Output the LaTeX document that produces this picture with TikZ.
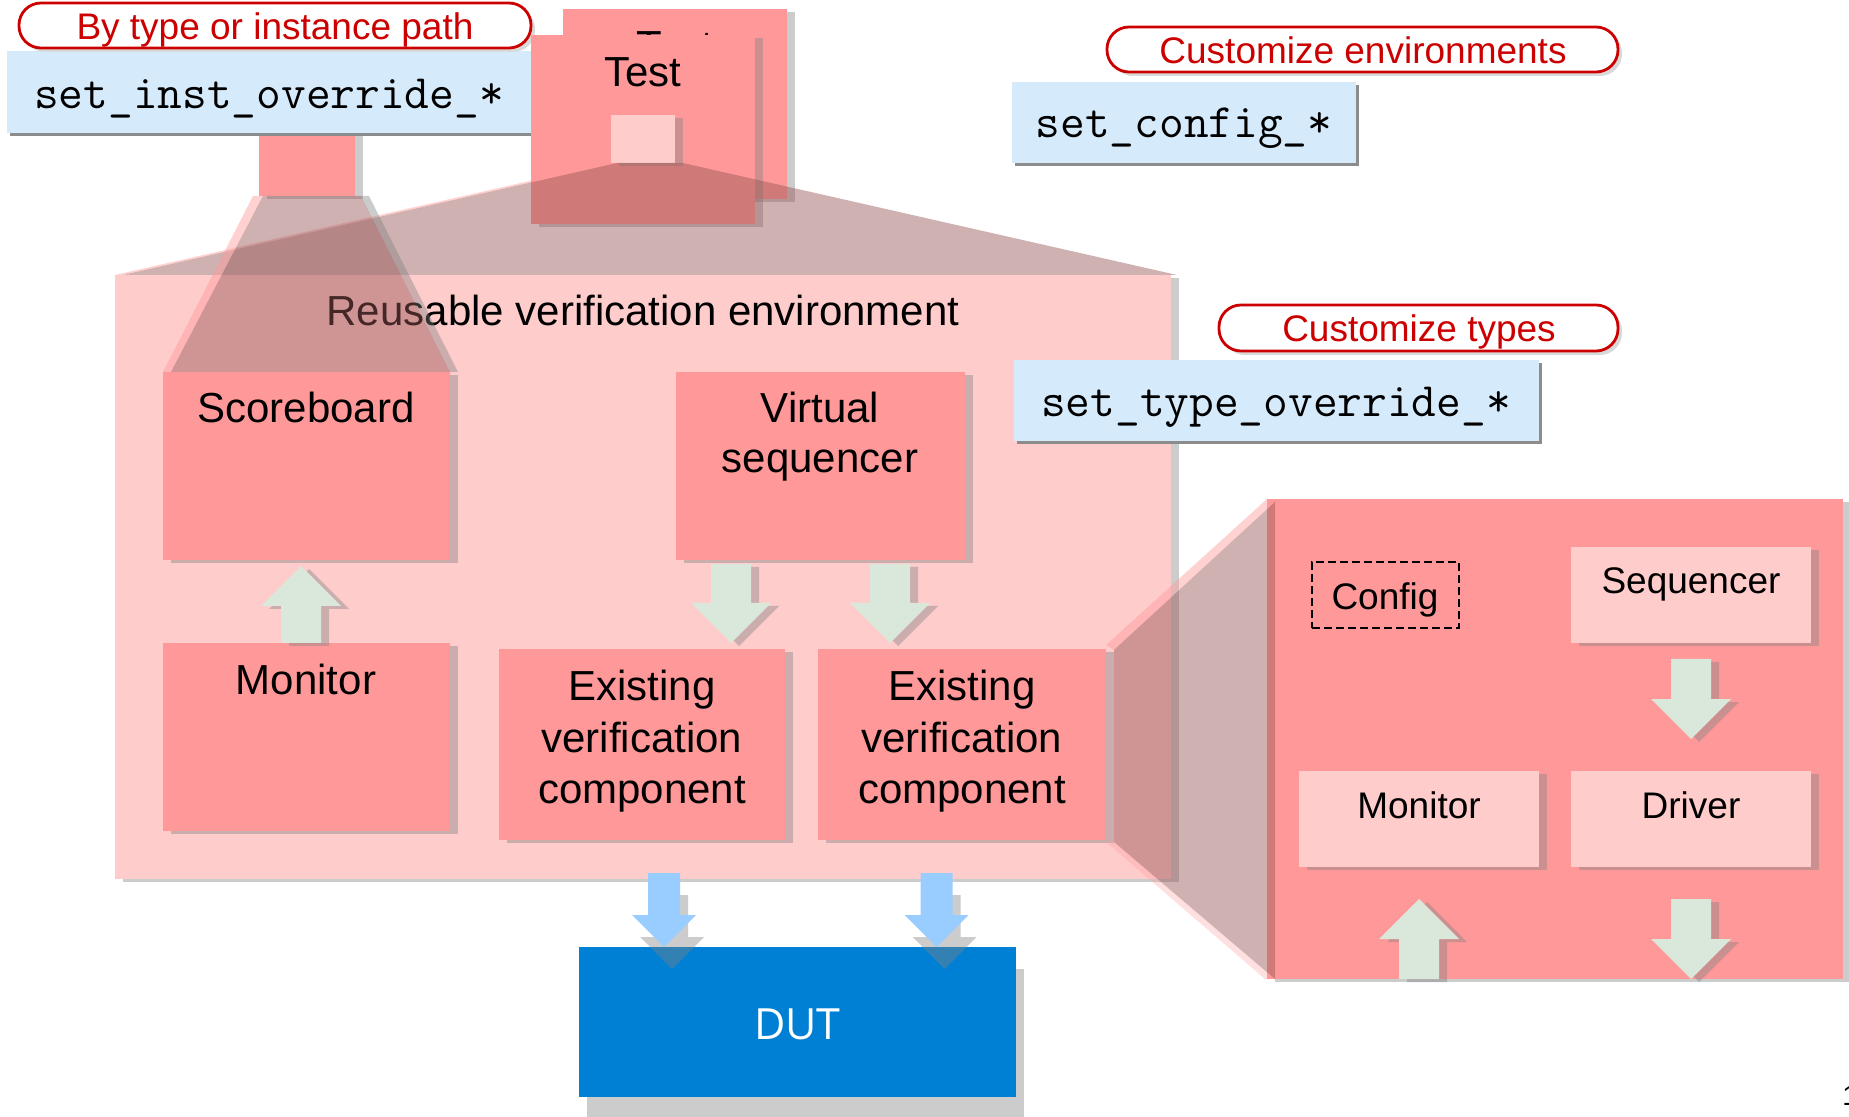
\documentclass[tikz,border=0pt]{standalone}
\usepackage{fontspec}
\setmainfont{Liberation Sans}
\newfontfamily\dutfont{Open Sans}
\usetikzlibrary{shadows,fit,calc}

\definecolor{boxred}{HTML}{FF9999}
\definecolor{boxpink}{HTML}{FFCCCC}
\definecolor{codeblue}{HTML}{D5EBFB}
\definecolor{dutblue}{HTML}{0080D5}
\definecolor{flowblue}{HTML}{99CCFF}
\definecolor{flowgreen}{HTML}{DAE8DC}
\definecolor{notered}{HTML}{CC0000}
\definecolor{zoomshade}{HTML}{975555}

\begin{document}
\begin{tikzpicture}[x=0.5pt,y=-0.5pt,
  shade8/.style={drop shadow={shadow xshift=4pt,shadow yshift=-1.5pt,fill=black!50,opacity=0.4}},
  boxbase/.style={inner sep=0pt,outer sep=0pt},
  redbox/.style={boxbase,fill=boxred,shade8},
  pinkbox/.style={boxbase,fill=boxpink,shade8},
  codebox/.style={boxbase,fill=codeblue,drop shadow={shadow xshift=1.5pt,shadow yshift=-1.5pt,fill=black!45,opacity=1}},
  pill/.style={boxbase,fill=white,draw=notered,line width=1.4pt,rounded corners=11pt,
    drop shadow={shadow xshift=2pt,shadow yshift=-2pt,fill=black!15,opacity=1}},
  bigtxt/.style={font=\fontsize{21}{25}\selectfont,inner sep=0pt,anchor=base},
  smalltxt/.style={font=\fontsize{18.5}{22}\selectfont,inner sep=0pt,anchor=base},
  notetxt/.style={font=\fontsize{18.5}{22}\selectfont,text=notered,inner sep=0pt,anchor=base},
  codetxt/.style={font=\ttfamily\fontsize{24}{28}\selectfont,inner sep=0pt,anchor=base},
  zoomfan/.style={fill=zoomshade,fill opacity=0.46},
  fanedge/.style={fill=boxred,fill opacity=0.45},
  fanshadow/.style={fill=black!50,fill opacity=0.4},
  blockarrow/.style n args={3}{to path={
    ($(\tikztostart)+(-#1,0pt)$) -- ($(\tikztotarget)+(-#1,#3)$) -- ($(\tikztotarget)+(-#2,#3)$)
    -- (\tikztotarget) -- ($(\tikztotarget)+(#2,#3)$) -- ($(\tikztotarget)+(#1,#3)$)
    -- ($(\tikztostart)+(#1,0pt)$) -- cycle}},
  greenarrow/.style={fill=flowgreen,shade8},
  bluearrow/.style={fill=flowblue,drop shadow={shadow xshift=4pt,shadow yshift=-11pt,fill=black!50,opacity=0.4}},
]
% page
\fill[white] (0,0) rectangle (1849,1117);
\useasboundingbox (0,0) rectangle (1849,1117);

% stem below the instance override call
\node[redbox,fit={(259,133)(355,196)}] (stem) {};
\node[codebox,fit={(7,51)(531,133)}] (instbox) {};
\node[codetxt] (insttxt) at (269,109) {set\_inst\_override\_*};
\node[pill,fit={(19,3)(531,48)}] (instnote) {};
\node[notetxt] (instnotetxt) at (275,40) {By type or instance path};

% stacked tests
\node[redbox,fit={(563,9)(787,199)}] (testback) {};
\node[bigtxt] (testbacktxt) at (675,61) {Test};
\node[redbox,fit={(531,35)(755,224)}] (test) {};
\node[bigtxt] (testtxt) at (643,87) {Test};
\node[pinkbox,fit={(611,115)(675,163)}] (envicon) {};

% reusable environment
\node[pinkbox,fit={(115,275)(1171,879)}] (env) {};
\node[bigtxt] (envtxt) at (643,326) {Reusable verification environment};

% fan from the test down to the environment
\fill[fanedge] (609,163) -- (617,163) -- (123,275) -- (115,275) -- cycle;
\fill[zoomfan] (617,163) -- (683,163) -- (1177,275) -- (123,275) -- cycle;

% fan from the stem down to the scoreboard
\fill[fanedge] (253,196) -- (263,196) -- (171,372) -- (163,372) -- cycle;
\fill[zoomfan] (263,196) -- (361,196) -- (450,372) -- (171,372) -- cycle;
\fill[fanshadow] (361,196) -- (369,196) -- (458,372) -- (450,372) -- cycle;

% environment components
\node[redbox,fit={(163,372)(450,560)}] (sb) {};
\node[bigtxt] (sbtxt) at (306,423) {Scoreboard};
\node[redbox,fit={(163,643)(450,831)}] (mon) {};
\node[bigtxt] (montxt) at (306,695) {Monitor};
\node[redbox,fit={(676,372)(965,560)}] (vs) {};
\node[bigtxt] (vstxta) at (820,423) {Virtual};
\node[bigtxt] (vstxtb) at (820,473) {sequencer};
\node[redbox,fit={(499,649)(785,840)}] (ev1) {};
\node[bigtxt] (ev1a) at (642,701) {Existing};
\node[bigtxt] (ev1b) at (642,752) {verification};
\node[bigtxt] (ev1c) at (642,803) {component};
\node[redbox,fit={(818,649)(1106,840)}] (ev2) {};
\node[bigtxt] (ev2a) at (962,701) {Existing};
\node[bigtxt] (ev2b) at (962,752) {verification};
\node[bigtxt] (ev2c) at (962,803) {component};

\path[greenarrow] ([xshift=-2.75pt]mon.north) to[blockarrow={10pt}{20pt}{-20pt}] ([xshift=-2.75pt,yshift=-3pt]sb.south);
\path[greenarrow] ([xshift=-44.75pt,yshift=-2pt]vs.south) to[blockarrow={10pt}{20pt}{20pt}] ([xshift=44.5pt,yshift=3pt]ev1.north);
\path[greenarrow] ([xshift=34.75pt,yshift=-2pt]vs.south) to[blockarrow={10pt}{20pt}{20pt}] ([xshift=-36pt,yshift=3pt]ev2.north);

% expanded verification component
\node[redbox,fit={(1267,499)(1843,979)}] (agent) {};
\node[boxbase,draw=black,dash pattern=on 4pt off 2pt,line width=0.8pt,fit={(1312,562)(1459,628)}] (cfg) {};
\node[smalltxt] (cfgtxt) at (1385,610) {Config};
\node[pinkbox,fit={(1571,547)(1811,643)}] (seq) {};
\node[smalltxt] (seqtxt) at (1691,594) {Sequencer};
\node[pinkbox,fit={(1299,771)(1539,867)}] (imon) {};
\node[smalltxt] (imontxt) at (1419,818) {Monitor};
\node[pinkbox,fit={(1571,771)(1811,867)}] (drv) {};
\node[smalltxt] (drvtxt) at (1691,818) {Driver};

\path[greenarrow] ([yshift=-8pt]seq.south) to[blockarrow={10pt}{20pt}{20pt}] ([yshift=16pt]drv.north);
\path[greenarrow] (imon.south |- agent.south) to[blockarrow={10pt}{20pt}{-20pt}] ([yshift=-16pt]imon.south);
\path[greenarrow] ([yshift=-16pt]drv.south) to[blockarrow={10pt}{20pt}{20pt}] (drv.south |- agent.south);

% fan from the component out to its expanded view
\fill[fanedge] (1106,645) -- (1267,499) -- (1275,502) -- (1114,650) -- cycle;
\fill[zoomfan] (1114,650) -- (1275,502) -- (1275,979) -- (1114,842) -- cycle;
\fill[fanedge,fill opacity=0.3] (1106,842) -- (1114,842) -- (1275,979) -- (1265,979) -- cycle;

% device under test
\node[boxbase,fill=dutblue,drop shadow={shadow xshift=4pt,shadow yshift=-11pt,fill=black!50,opacity=0.4},fit={(579,947)(1016,1097)}] (dut) {};
\node[font=\dutfont\fontsize{21.5}{25}\selectfont,text=white,inner sep=0pt,anchor=base] (duttxt) at (797.5,1039) {DUT};
\path[bluearrow] ([xshift=11pt,yshift=-16.5pt]ev1.south) to[blockarrow={8pt}{16pt}{16pt}] ([xshift=-66.75pt]dut.north);
\path[bluearrow] ([xshift=-12.75pt,yshift=-16.5pt]ev2.south) to[blockarrow={8pt}{16pt}{16pt}] ([xshift=69.5pt]dut.north);

% configuration and type override calls
\node[pill,fit={(1107,27)(1618,72)}] (envnote) {};
\node[notetxt] (envnotetxt) at (1363,64) {Customize environments};
\node[codebox,fit={(1012,82)(1356,163)}] (cfgbox) {};
\node[codetxt] (cfgboxtxt) at (1184,138) {set\_config\_*};
\node[pill,fit={(1219,305)(1618,351)}] (typenote) {};
\node[notetxt] (typenotetxt) at (1419,342) {Customize types};
\node[codebox,fit={(1014,360)(1539,441)}] (typebox) {};
\node[codetxt] (typeboxtxt) at (1276,417) {set\_type\_override\_*};

% page number
\node[font=\fontsize{14}{16}\selectfont,inner sep=0pt,anchor=base west] (pagenum) at (1842,1105) {1};
\end{tikzpicture}
\end{document}
